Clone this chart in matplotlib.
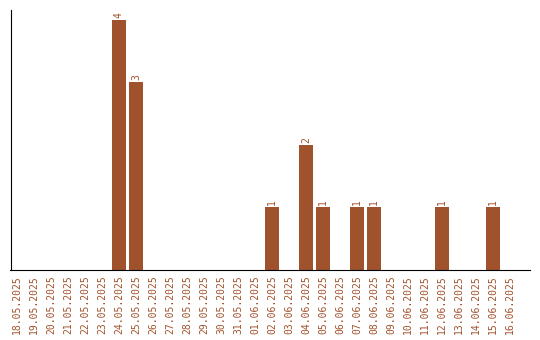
import matplotlib
matplotlib.use("Agg")
import matplotlib.pyplot as plt
import datetime as dt

start = dt.date(2025, 5, 18)
dates = [(start + dt.timedelta(days=i)).strftime("%d.%m.%Y") for i in range(30)]
counts_by_date = {
    "24.05.2025": 4,
    "25.05.2025": 3,
    "02.06.2025": 1,
    "04.06.2025": 2,
    "05.06.2025": 1,
    "07.06.2025": 1,
    "08.06.2025": 1,
    "12.06.2025": 1,
    "15.06.2025": 1,
}
values = [counts_by_date.get(d, 0) for d in dates]

color = "#A0522D"
font = "DejaVu Sans Mono"
fig = plt.figure(figsize=(5.4, 3.4), dpi=100)
ax = fig.add_axes([10.5/540, 1 - 269.5/340, (530-10.5)/540, (269.5-10)/340])
x = list(range(len(dates)))
ax.bar(x, values, width=0.82, color=color)
for xi, v in zip(x, values):
    if v > 0:
        ax.text(xi, v + 0.03, str(v), rotation=90, ha="center", va="bottom",
                color=color, family=font, fontsize=7)
ax.set_xlim(-0.38, 30.18)
ax.set_ylim(0, 4.16)
ax.set_xticks(x)
ax.set_xticklabels(dates, rotation=90, family=font, fontsize=7, color=color)
ax.tick_params(axis="x", length=0, pad=4)
ax.set_yticks([])
ax.spines["top"].set_visible(False)
ax.spines["right"].set_visible(False)
fig.savefig("out.png", dpi=100)
